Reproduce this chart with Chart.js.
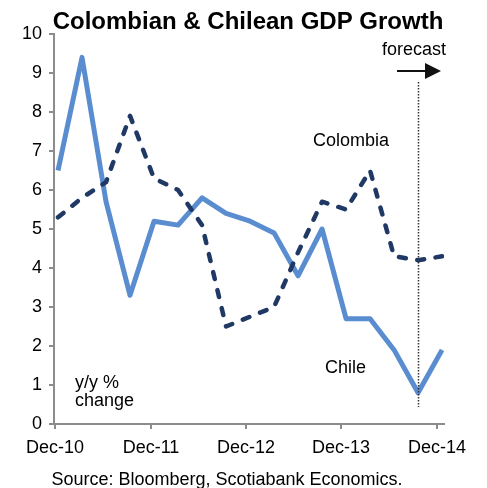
<!DOCTYPE html>
<html lang="en">
<head>
  <meta charset="UTF-8">
  <title>Colombian & Chilean GDP Growth</title>
  <script src="https://cdn.jsdelivr.net/npm/chart.js"></script>
  <style>
    html, body { margin: 0; padding: 0; background: #fff; }
    #wrap { width: 487px; height: 488px; }
  </style>
</head>
<body>
  <div id="wrap"><canvas id="gdpChart" width="487" height="488"></canvas></div>
  <script>
    // quarterly y/y % change, Dec-10 .. Dec-14
    const quarters = ['Dec-10','Mar-11','Jun-11','Sep-11','Dec-11','Mar-12','Jun-12','Sep-12','Dec-12',
                      'Mar-13','Jun-13','Sep-13','Dec-13','Mar-14','Jun-14','Sep-14','Dec-14'];
    const chile    = [6.5, 9.4, 5.7, 3.3, 5.2, 5.1, 5.8, 5.4, 5.2, 4.9, 3.8, 5.0, 2.7, 2.7, 1.9, 0.8, 1.9];
    const colombia = [5.3, 5.8, 6.2, 7.9, 6.3, 6.0, 5.1, 2.5, 2.75, 3.0, 4.4, 5.7, 5.5, 6.5, 4.3, 4.2, 4.3];
    const xTickLabels = ['Dec-10','Dec-11','Dec-12','Dec-13','Dec-14'];
    const xTickPos = [-0.125, 3.875, 7.83, 11.79, 15.79];
    const forecastFrom = 15;

    const FONT = '"Liberation Sans", Arial, sans-serif';
    const AXIS = '#8c8c8c';

    const toPoints = arr => arr.map((v, i) => ({ x: i, y: v }));

    const textPlugin = {
      id: 'texts',
      afterDraw(chart) {
        const c = chart.ctx;
        const xs = chart.scales.x;
        c.save();
        c.fillStyle = '#000';
        c.textBaseline = 'alphabetic';

        c.font = 'bold 24px ' + FONT;
        c.textAlign = 'center';
        c.fillText('Colombian & Chilean GDP Growth', 248, 29);

        c.font = '18px ' + FONT;
        c.fillText('Source: Bloomberg, Scotiabank Economics.', 227, 485);

        c.textAlign = 'left';
        c.fillText('forecast', 382, 55);
        c.fillText('Colombia', 313, 146);
        c.fillText('Chile', 325, 373);
        c.fillText('y/y %', 75, 388);
        c.fillText('change', 75, 406);

        // forecast divider
        const fx = Math.round(xs.getPixelForValue(forecastFrom)) + 0.5;
        c.strokeStyle = '#333';
        c.lineWidth = 1.5;
        c.setLineDash([1.5, 1.5]);
        c.beginPath();
        c.moveTo(fx, 82);
        c.lineTo(fx, 407);
        c.stroke();

        // arrow
        c.setLineDash([]);
        c.strokeStyle = '#111';
        c.lineWidth = 2;
        c.beginPath();
        c.moveTo(397, 71);
        c.lineTo(428, 71);
        c.stroke();
        c.fillStyle = '#111';
        c.beginPath();
        c.moveTo(441, 71);
        c.lineTo(425, 63);
        c.lineTo(425, 79);
        c.closePath();
        c.fill();
        c.restore();
      }
    };

    new Chart(document.getElementById('gdpChart').getContext('2d'), {
      type: 'line',
      data: {
        datasets: [
          { label: 'Colombia', data: toPoints(colombia), borderColor: '#1f3864', borderWidth: 4.5,
            borderDash: [7, 11.5], borderCapStyle: 'round', borderJoinStyle: 'round',
            pointRadius: 0, tension: 0, fill: false },
          { label: 'Chile', data: toPoints(chile), borderColor: '#5a8dd0', borderWidth: 5,
            borderJoinStyle: 'round', pointRadius: 0, tension: 0, fill: false }
        ]
      },
      options: {
        responsive: false,
        animation: false,
        layout: { padding: { top: 34, right: 43, left: 0, bottom: 0 } },
        plugins: { legend: { display: false }, tooltip: { enabled: false }, title: { display: false } },
        scales: {
          x: {
            type: 'linear',
            min: -0.167,
            max: 16.08,
            afterFit: s => { s.height = 64; },
            afterBuildTicks: s => { s.ticks = xTickPos.map(v => ({ value: v })); },
            grid: { drawOnChartArea: false, drawTicks: true, tickLength: 5, color: AXIS, lineWidth: 2 },
            border: { display: true, color: AXIS, width: 2 },
            ticks: {
              autoSkip: false, maxRotation: 0, padding: 8, color: '#000',
              font: { family: FONT, size: 18 },
              callback: (v, i) => xTickLabels[i]
            }
          },
          y: {
            min: 0,
            max: 10,
            afterFit: s => { s.width = 54; },
            grid: { drawOnChartArea: false, drawTicks: true, tickLength: 5, color: AXIS, lineWidth: 2 },
            border: { display: true, color: AXIS, width: 2 },
            ticks: { stepSize: 1, padding: 7, color: '#000', font: { family: FONT, size: 18 } }
          }
        }
      },
      plugins: [textPlugin]
    });
  </script>
</body>
</html>
